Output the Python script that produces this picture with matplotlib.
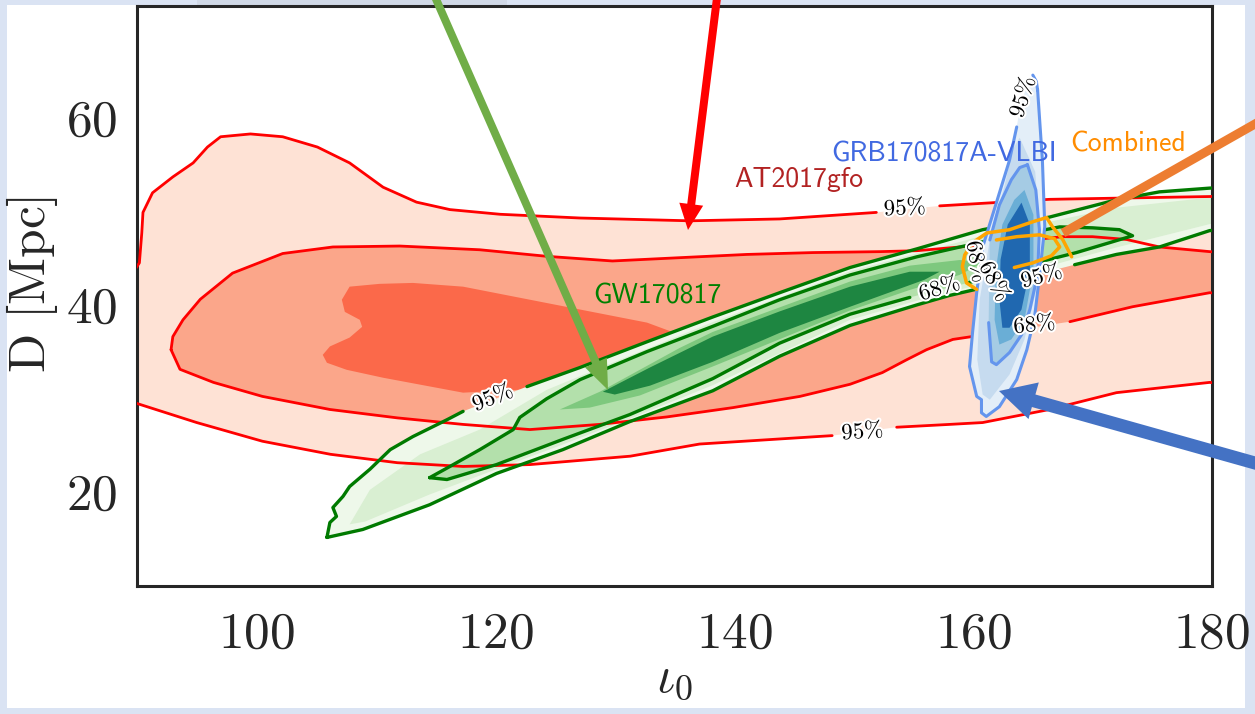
import numpy as np
import matplotlib
matplotlib.use("Agg")
import matplotlib.pyplot as plt
import matplotlib.patheffects as pe
from matplotlib.patches import FancyArrow, Rectangle
from matplotlib.transforms import IdentityTransform

plt.rcParams["mathtext.fontset"] = "cm"

# ---------------------------------------------------------------------------
# Credible-region outlines in the (iota_0 [deg], D [Mpc]) plane
# ---------------------------------------------------------------------------
# AT2017gfo (kilonova)
at_95 = [(88.5, 41.0), (90.2, 44.3), (90.4, 47.5), (90.5, 49.7), (91.3, 51.8), (93.0, 53.5),
         (94.7, 55.0), (95.9, 56.7), (97.0, 57.8), (99.5, 58.1), (102.2, 57.8), (105.1, 56.7),
         (107.8, 55.0), (110.6, 52.4), (113.4, 50.8), (116.2, 50.0), (120.4, 49.5), (127.1, 49.1),
         (136.3, 48.8), (143.8, 49.0), (151.9, 49.7), (157.2, 50.4), (166.4, 51.1), (179.8, 51.4),
         (182.0, 51.5), (182.0, 31.2), (179.8, 31.5), (172.0, 30.4), (166.4, 28.6), (160.8, 27.2),
         (158.0, 27.0), (153.6, 26.7), (148.2, 25.8), (137.1, 24.9), (131.3, 23.6), (122.9, 22.7),
         (117.3, 22.5), (111.8, 22.9), (106.2, 23.8), (100.5, 25.2), (95.0, 27.2), (90.1, 29.2),
         (88.5, 29.9)]
at_68 = [(92.85, 35.0), (93.0, 36.4), (93.85, 38.2), (95.3, 40.4), (98.0, 43.2), (102.2, 45.3),
         (106.4, 46.0), (112.0, 46.1), (118.7, 45.7), (124.3, 45.0), (129.8, 44.5), (135.4, 44.85),
         (141.05, 45.2), (146.6, 45.4), (152.2, 45.5), (155.3, 45.6), (158.9, 46.0), (167.5, 47.1),
         (170.0, 47.1), (172.85, 46.8), (175.6, 46.0), (179.8, 45.5), (182.0, 45.3), (182.0, 40.9),
         (179.8, 41.1), (173.35, 39.6), (168.1, 38.0), (162.5, 36.9), (158.3, 36.1), (156.1, 35.0),
         (154.4, 33.9), (152.4, 32.55), (149.7, 31.3), (145.5, 30.0), (139.9, 28.8), (134.35, 27.8),
         (128.7, 27.0), (122.9, 26.45), (117.3, 27.0), (111.8, 27.7), (106.15, 28.6), (100.5, 30.0),
         (96.4, 31.5), (93.6, 32.9)]
at_core = [(107.8, 41.75), (107.15, 40.35), (107.4, 39.05), (108.65, 38.2), (108.85, 37.45),
           (107.8, 36.3), (106.15, 35.35), (105.55, 34.45), (105.9, 33.6), (107.55, 32.85),
           (110.6, 32.0), (117.3, 30.4), (122.65, 30.75), (127.1, 31.8), (132.1, 33.4),
           (135.45, 36.6), (132.7, 37.9), (127.1, 39.3), (122.9, 40.35), (117.3, 41.75),
           (113.1, 42.15), (110.3, 42.05)]

# GW170817 (gravitational waves)
gw_95 = [(105.9, 14.9), (106.15, 16.5), (106.7, 17.15), (106.4, 18.1), (107.25, 19.3), (107.8, 20.35),
         (109.5, 22.2), (111.2, 24.3), (113.1, 25.7), (115.95, 27.5), (117.3, 28.4), (122.65, 31.05),
         (127.1, 33.1), (132.7, 35.85), (138.2, 38.5), (143.8, 41.1), (149.7, 43.8), (155.3, 45.8),
         (160.8, 47.85), (166.4, 49.2), (172.0, 51.05), (175.6, 51.9), (179.8, 52.3), (181.5, 52.4),
         (181.5, 47.95), (179.8, 47.75), (175.6, 46.0), (172.0, 45.2), (168.5, 44.1), (163.05, 42.3),
         (158.0, 40.8), (155.3, 39.8), (149.7, 37.6), (143.8, 34.3), (138.2, 30.6), (131.25, 27.3),
         (125.65, 24.3), (120.1, 21.75), (114.5, 18.4), (108.9, 15.75)]
gw_90 = [(107.8, 16.3), (109.5, 20.0), (113.7, 23.8), (118.7, 26.45), (124.3, 30.7), (129.8, 33.6),
         (138.2, 37.95), (149.7, 43.4), (160.8, 47.2), (172.0, 50.2), (180.6, 51.4), (180.6, 48.7),
         (172.0, 45.95), (163.05, 42.8), (155.3, 40.25), (149.7, 38.2), (138.2, 31.2), (131.25, 27.6),
         (125.65, 24.85), (120.1, 22.2), (114.5, 19.5), (109.1, 16.6)]
gw_68 = [(114.5, 21.3), (116.2, 22.5), (118.7, 24.3), (121.5, 26.45), (122.05, 27.75), (124.3, 29.75),
         (127.1, 31.8), (132.7, 34.8), (138.2, 37.5), (143.8, 40.35), (149.7, 43.0), (155.3, 44.95),
         (160.8, 46.55), (167.25, 48.15), (170.0, 48.05), (172.25, 47.85), (173.35, 47.2),
         (171.4, 46.45), (168.65, 45.4), (165.55, 44.4), (159.7, 42.2), (154.7, 40.6), (149.7, 38.8),
         (143.8, 35.7), (138.2, 31.9), (131.25, 28.05), (125.65, 25.4), (120.1, 22.7), (115.95, 21.1)]
gw_40 = [(125.4, 28.6), (128.75, 30.5), (135.45, 35.2), (138.2, 36.9), (149.7, 42.3), (154.7, 44.0),
         (158.85, 44.6), (160.95, 44.4), (158.85, 43.0), (154.7, 41.4), (149.7, 39.2), (138.2, 33.2),
         (132.1, 30.1), (127.9, 28.8)]
gw_20 = [(129.0, 30.5), (132.95, 33.1), (138.2, 36.4), (143.8, 39.1), (149.7, 41.75), (154.7, 43.35),
         (157.2, 43.35), (155.95, 42.5), (149.7, 39.6), (143.8, 36.8), (138.2, 33.7), (132.95, 31.15),
         (130.0, 30.2)]

# GRB170817A-VLBI (superluminal jet)
grb_95 = [(165.4, 62.8), (165.8, 55.3), (166.0, 48.2), (165.55, 42.8), (165.15, 38.55), (164.5, 35.0),
          (163.65, 31.8), (162.2, 28.9), (161.1, 27.85), (160.7, 28.25), (160.7, 29.65), (160.3, 30.0),
          (159.7, 33.2), (159.95, 36.8), (160.3, 41.1), (160.8, 46.0), (161.95, 50.75), (163.05, 55.3),
          (163.65, 58.85), (163.9, 60.7), (164.5, 63.35), (165.0, 64.4), (165.3, 63.7)]
grb_85 = [(163.9, 57.7), (165.2, 54.05), (165.55, 47.85), (165.3, 41.45), (164.3, 36.1), (163.05, 32.35),
          (161.4, 29.65), (160.8, 30.2), (160.35, 33.95), (160.55, 40.35), (161.4, 46.75),
          (162.65, 52.65), (163.3, 56.4)]
grb_68 = [(164.55, 54.8), (165.25, 52.1), (165.55, 47.85), (165.4, 43.05), (164.75, 39.3), (164.05, 36.6),
          (163.05, 34.7), (161.95, 33.4), (161.55, 33.7), (161.3, 37.9), (161.4, 46.75), (162.2, 50.5),
          (163.2, 53.2), (163.9, 54.5)]
grb_45 = [(164.3, 52.1), (165.05, 49.45), (165.05, 43.55), (164.3, 38.2), (163.2, 36.1), (162.2, 35.55),
          (161.8, 38.2), (161.9, 43.55), (162.45, 48.4), (163.45, 51.05)]
grb_25 = [(164.05, 50.75), (164.75, 48.4), (164.75, 43.55), (164.05, 39.3), (163.05, 37.35),
          (162.45, 37.35), (162.2, 40.35), (162.3, 44.65), (162.9, 48.4)]

# Combined constraint (open outlines)
comb_95 = [(163.2, 42.5), (161.95, 41.65), (160.3, 41.45), (159.45, 42.15), (159.1, 43.9), (159.3, 45.15),
           (159.95, 46.45), (161.15, 47.5), (163.05, 47.85), (165.0, 48.7), (166.15, 49.15),
           (166.65, 48.15), (167.5, 46.8), (168.25, 44.95)]
comb_68 = [(161.95, 46.75), (163.65, 47.1), (165.55, 47.3), (166.8, 46.9), (167.25, 46.0), (166.55, 45.05),
           (165.0, 44.3), (163.45, 43.8), (162.45, 43.15), (161.95, 42.5)]

# Contour labels: (iota_0, D, text, rotation)
at_95_labels = [(154.3, 50.2, "95", 3), (150.75, 26.25, "95", 4)]
at_68_labels = [(165.15, 37.7, "68", 6)]
gw_95_labels = [(119.8, 29.9, "95", 22), (165.75, 42.9, "95", 15)]
gw_68_labels = [(157.2, 41.6, "68", 17)]
grb_95_labels = [(164.15, 62.1, "95", 72)]
grb_68_labels = [(160.3, 44.4, "68", -80)]
comb_labels = [(161.8, 42.3, "68", -62)]

# Source names
names = ["GRB170817A-VLBI", "Combined", "AT2017gfo", "GW170817"]
name_pos = [(148.1, 55.1), (168.1, 56.2), (140.0, 52.4), (128.2, 40.0)]
name_colors = ["#4169e1", "#ff8c00", "#b22222", "#008000"]

x_ticks = [100, 120, 140, 160, 180]
y_ticks = [20, 40, 60]

# ---------------------------------------------------------------------------
W, H = 1255, 714
fig = plt.figure(figsize=(W / 100, H / 100), dpi=100, facecolor="#dae3f3")
fig.add_artist(Rectangle((7 / W, 6 / H), (1245 - 7) / W, (709 - 6) / H,
                         transform=fig.transFigure, facecolor="white", edgecolor="none", zorder=-10))
fig.add_artist(Rectangle((197 / W, 709 / H), 310 / W, 6 / H,
                         transform=fig.transFigure, facecolor="#d0d8e6", edgecolor="none", zorder=-9))

ax = fig.add_axes([137 / W, 128 / H, 1075 / W, 580 / H])
ax.set_xlim(90, 180)
ax.set_ylim(9.7, 71.8)
ax.set_facecolor("white")


def seg_dist(c, a, b):
    ab = b - a
    t = np.clip(np.dot(c - a, ab) / max(np.dot(ab, ab), 1e-9), 0, 1)
    return np.hypot(*(a + t * ab - c))


def outline(verts, color, lw, labels=(), closed=True, z=3, gap=14):
    pts = np.asarray(verts, float)
    if closed:
        pts = np.vstack([pts, pts[:1]])
    disp = ax.transData.transform(pts)
    centres = [ax.transData.transform((lx, ly)) for lx, ly, *_ in labels]
    out = [pts[0]]
    for i in range(len(pts) - 1):
        if any(seg_dist(c, disp[i], disp[i + 1]) < gap for c in centres):
            out.append([np.nan, np.nan])
        out.append(pts[i + 1])
    out = np.array(out)
    ax.plot(out[:, 0], out[:, 1], color=color, lw=lw, zorder=z,
            solid_capstyle="round", solid_joinstyle="round")


def region(verts, color, z):
    pts = np.asarray(verts, float)
    ax.fill(pts[:, 0], pts[:, 1], color=color, lw=0, zorder=z)


def put_labels(labels, z=8):
    for lx, ly, txt, rot in labels:
        ax.text(lx, ly, r"$%s\%%$" % txt, rotation=rot, rotation_mode="anchor",
                ha="center", va="center", fontsize=16.5, color="black", zorder=z,
                path_effects=[pe.withStroke(linewidth=3, foreground="white")])


# AT2017gfo filled regions
region(at_95, "#fee2d5", 1)
region(at_68, "#fba68a", 1.1)
region(at_core, "#fb694a", 1.2)
# GW170817 filled regions
region(gw_95, "#eef8ea", 2)
region(gw_90, "#d9efd2", 2.1)
region(gw_68, "#b3e0ab", 2.2)
region(gw_40, "#7ec87e", 2.3)
region(gw_20, "#1e8641", 2.4)
# outlines
outline(at_95, "#ff0000", 2.0, at_95_labels, z=3)
outline(at_68, "#ff0000", 2.0, at_68_labels, z=3)
outline(gw_95, "#007a00", 2.4, gw_95_labels, z=3.5)
outline(gw_68, "#007a00", 2.4, gw_68_labels, z=3.5)
# GRB170817A-VLBI filled regions and outlines
region(grb_95, "#e3eef8", 4)
region(grb_85, "#c6dbef", 4.1)
region(grb_68, "#a5cbe4", 4.2)
region(grb_45, "#6aaed6", 4.3)
region(grb_25, "#2068b0", 4.4)
outline(grb_95, "#6495ed", 2.2, grb_95_labels, z=5)
outline(grb_68, "#6495ed", 2.2, grb_68_labels, z=5)
# combined constraint
outline(comb_95, "#ffa500", 2.5, comb_labels, closed=False, z=6)
outline(comb_68, "#ffa500", 2.5, comb_labels, closed=False, z=6)

for group in (at_95_labels, at_68_labels, gw_95_labels, gw_68_labels,
              grb_95_labels, grb_68_labels, comb_labels):
    put_labels(group)

for name, (nx, ny), c in zip(names, name_pos, name_colors):
    ax.text(nx, ny, name, color=c, fontsize=20, family="cmss10", ha="left", va="baseline", zorder=9)

# axes styling
ax.set_xticks(x_ticks)
ax.set_yticks(y_ticks)
ax.set_xticklabels([r"$%d$" % v for v in x_ticks])
ax.set_yticklabels([r"$%d$" % v for v in y_ticks])
ax.tick_params(length=0, labelsize=37, colors="#262626")
ax.tick_params(axis="x", pad=16)
ax.tick_params(axis="y", pad=14)
for s in ax.spines.values():
    s.set_color("#262626")
    s.set_linewidth(2.2)
ax.set_xlabel(r"$\iota_0$", fontsize=37, color="#262626")
ax.set_ylabel(r"$\mathrm{D\ [Mpc]}$", fontsize=37, color="#262626")
ax.xaxis.set_label_coords(0.5, -0.115)
ax.yaxis.set_label_coords(-0.072, 0.52)

# call-out arrows (figure pixel coordinates, origin bottom-left)
def callout(x0, y0, x1, y1, color, width, head_w, head_l):
    fig.add_artist(FancyArrow(x0, H - y0, x1 - x0, -(y1 - y0), width=width,
                              head_width=head_w, head_length=head_l,
                              length_includes_head=True, color=color, lw=0,
                              transform=IdentityTransform(), zorder=20))

callout(432, -10, 608, 390, "#70ad47", 8, 24, 30)
callout(718, -10, 688, 230, "#ff0000", 8, 24, 26)
callout(1262, 120, 1063, 233, "#ed7d31", 9, 9, 0.01)
callout(1262, 465, 999, 391, "#4472c4", 13, 38, 36)

fig.savefig("out.png", dpi=100, facecolor=fig.get_facecolor())
